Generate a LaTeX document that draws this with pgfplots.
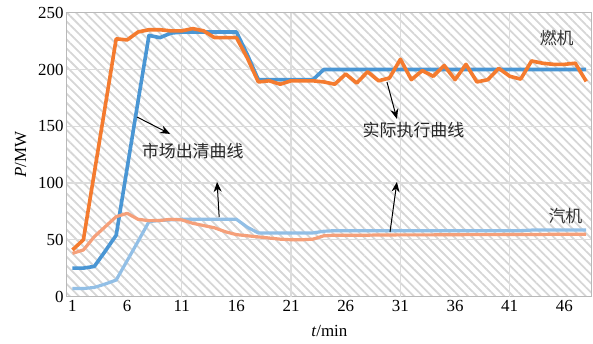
\documentclass[border=0pt]{standalone}
\usepackage{pgfplots}
\pgfplotsset{compat=1.18}
\usepackage{fontspec}
\setmainfont{Liberation Serif}
\newfontfamily\cjk{Noto Sans CJK SC}
\usetikzlibrary{patterns.meta,arrows.meta}
\definecolor{cOr}{HTML}{F47B2F}
\definecolor{cBl}{HTML}{4A96D4}
\definecolor{cLBl}{HTML}{92BFE6}
\definecolor{cLOr}{HTML}{F5A07A}
\definecolor{cGrid}{HTML}{DCDCDC}
\definecolor{cHatch}{HTML}{D6D6D6}
\begin{document}
\begin{tikzpicture}
\path[use as bounding box] (-67bp,-47.5bp) rectangle (526bp,296.5bp);
\begin{axis}[
  at={(0,0)}, anchor=south west,
  width=524.7bp, height=283.8bp, scale only axis,
  xmin=0.5, xmax=48.5, ymin=0, ymax=250,
  xtick={1,6,...,46}, ytick={0,50,...,250},
  extra x ticks={11,21,31,41}, extra x tick labels={},
  extra x tick style={grid=major},
  ymajorgrids,
  grid style={draw=cGrid, line width=1.2bp},
  axis line style={draw=gray!55, line width=1bp},
  major tick length=0,
  tick label style={font=\fontsize{17}{19}\selectfont},
  /pgf/number format/assume math mode=true,
  xlabel={\textit{t}/min},
  ylabel={\textit{P}/MW},
  label style={font=\fontsize{17}{19}\selectfont},
  xlabel style={yshift=-7bp},
  ylabel style={at={(axis description cs:-0.0705,0.5)}, anchor=south},
  axis background/.style={pattern={Lines[angle=-45,distance=6.4bp,line width=1.8bp]}, pattern color=cHatch},
  every axis plot/.append style={line join=round, no markers},
  clip=false,
]
% 汽机 市场出清
\addplot[cLBl, line width=3.2bp] coordinates {
(1,7)(2,7)(3,8)(4,11)(5,14.5)(6,31.5)(7,48.5)(8,66)(9,67)(10,67.5)
(11,68)(12,68)(13,68)(14,68)(15,68)(16,68)(17,61)(18,56)(19,56)(20,56)
(21,56)(22,56)(23,56)(24,57.5)(25,58)(26,58)(27,58)(28,58)(29,58)(30,58)
(31,58)(32,58)(33,58)(34,58)(35,58)(36,58)(37,58)(38,58)(39,58)(40,58)
(41,58)(42,58)(43,58.5)(44,58.5)(45,58.5)(46,58.5)(47,58.5)(48,58.5)};
% 燃机 市场出清
\addplot[cBl, line width=3.6bp] coordinates {
(1,25)(2,25)(3,26.5)(4,40)(5,54)(6,113)(7,172)(8,230)(9,228)(10,232)
(11,233)(12,233)(13,233)(14,233)(15,233)(16,233)(17,213)(18,191)(19,191)(20,191)
(21,191)(22,191)(23,191)(24,200)(25,200)(26,200)(27,200)(28,200)(29,200)(30,200)
(31,200)(32,200)(33,200)(34,200)(35,200)(36,200)(37,200)(38,200)(39,200)(40,200)
(41,200)(42,200)(43,200)(44,200)(45,200)(46,200)(47,200)(48,200)};
% 汽机 实际执行
\addplot[cLOr, line width=3.2bp] coordinates {
(1,38)(2,41)(3,52.7)(4,61.5)(5,70.3)(6,73.3)(7,68)(8,66.8)(9,67)(10,68)
(11,67.5)(12,64.5)(13,62.5)(14,60.5)(15,57)(16,54.5)(17,53.5)(18,52.5)(19,51.5)(20,50.5)
(21,50)(22,50)(23,50.5)(24,53.5)(25,54)(26,54)(27,54)(28,54)(29,54.2)(30,54.2)
(31,54.3)(32,54.3)(33,54.3)(34,54.3)(35,54.4)(36,54.4)(37,54.5)(38,54.5)(39,54.5)(40,54.5)
(41,54.6)(42,54.6)(43,54.7)(44,54.7)(45,54.8)(46,54.8)(47,54.8)(48,54.8)};
% 燃机 实际执行
\addplot[cOr, line width=3.6bp] coordinates {
(1,41)(2,50)(3,109)(4,168)(5,227)(6,226)(7,233)(8,235)(9,235)(10,234)
(11,234)(12,236)(13,234)(14,228)(15,228)(16,228)(17,210)(18,189)(19,190)(20,187)
(21,190)(22,190)(23,190)(24,189)(25,187)(26,196)(27,188)(28,198)(29,190)(30,192.5)
(31,209)(32,191)(33,199)(34,194)(35,203.5)(36,191)(37,204.5)(38,189)(39,191)(40,201)
(41,194)(42,191.5)(43,207.5)(44,205.5)(45,204.5)(46,204.5)(47,205.5)(48,189.5)};
% annotations
\node[font=\cjk\fontsize{17}{19}\selectfont, text=black!80] at (axis cs:45.3,227.6) {燃机};
\node[font=\cjk\fontsize{17}{19}\selectfont, text=black!80] at (axis cs:46.1,70.9) {汽机};
\node[font=\cjk\fontsize{17}{19}\selectfont, text=black!85] at (axis cs:12.0,128) {市场出清曲线};
\node[font=\cjk\fontsize{17}{19}\selectfont, text=black!85] at (axis cs:32.2,146.7) {实际执行曲线};
\draw[-{Stealth[length=10bp,width=8bp]}, line width=1bp] (axis cs:6.91,158.1) -- (axis cs:9.93,143.2);
\draw[-{Stealth[length=10bp,width=8bp]}, line width=1bp] (axis cs:14.42,70.0) -- (axis cs:14.23,100.9);
\draw[-{Stealth[length=10bp,width=8bp]}, line width=1bp] (axis cs:29.77,189) -- (axis cs:30.68,156.4);
\draw[-{Stealth[length=10bp,width=8bp]}, line width=1bp] (axis cs:30.05,56.8) -- (axis cs:30.68,100.9);
\end{axis}
\end{tikzpicture}
\end{document}
